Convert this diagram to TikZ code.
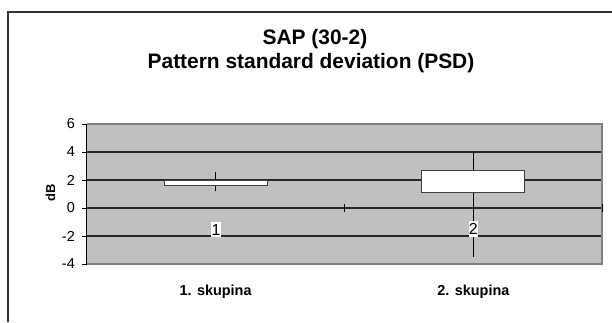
\documentclass[tikz,border=0pt]{standalone}
\usepackage{fontspec}
\setmainfont{Liberation Sans}
\usetikzlibrary{positioning}

\definecolor{plotgray}{HTML}{C0C0C0}
\definecolor{rimgray}{HTML}{808080}

\begin{document}
\begin{tikzpicture}[x=1bp,y=-1bp,
	title/.style={font=\fontsize{21}{24}\selectfont\bfseries,inner sep=0pt},
	ticklabel/.style={font=\fontsize{14.5}{16}\selectfont,anchor=east,inner sep=0pt},
	catlabel/.style={font=\fontsize{14.5}{16}\selectfont\bfseries,inner sep=0pt},
	gridline/.style={line width=1.2bp,black!85},
	updown/.style={draw=black!75,fill=white,line width=1bp},
	hilo/.style={line width=0.9bp,black},
	serieslabel/.style={fill=white,inner xsep=0.4bp,inner ysep=2bp,font=\fontsize{16}{18}\selectfont}]

	\useasboundingbox[fill=white] (0,0) rectangle (612,322);
	\draw[line width=1.3bp,black!80] (8,322) -- (8,12) -- (612,12);

	\node[title,anchor=base] (sap) at (315,44) {SAP (30-2)};
	\node[title,anchor=base] (psd) [below=24.3bp of sap.base,anchor=base,xshift=-4bp] {Pattern standard deviation (PSD)};

	% plot area, one unit of y is one dB
	\begin{scope}[shift={(86.7,208)},x=1bp,y=14bp]
		\fill[plotgray] (0,-4) rectangle (515.6,6);
		\foreach \v in {-2,0,2,4}
			\draw[gridline] (0,\v) -- (515.6,\v);
		\draw[rimgray,line width=2bp] (0,6) -- (515.6,6) -- (515.6,-4) -- (0,-4);
		\draw[black,line width=1.2bp] (0,-4) -- (0,6);
		\foreach \v [count=\i] in {-4,-2,...,6} {
			\draw[black,line width=1bp] (-4.5,\v) -- (0,\v);
			\node[ticklabel] (yl\i) at (-11.7,\v) {\v};
		}
		\draw[black,line width=1bp] (257.8,-0.3) -- (257.8,0.3);
		\draw[black,line width=1bp] (515.6,-0.3) -- (515.6,0.3);

		\node[rotate=90,font=\fontsize{13}{15}\selectfont\bfseries,inner sep=0pt] (db) at (-36.2,1.07) {dB};

		% high-low lines under the up-down bars
		\draw[hilo] (128.9,1.2) -- (128.9,2.55);
		\draw[updown] (77.5,1.59) rectangle (180.3,1.93);
		\draw[hilo] (386.7,-3.52) -- (386.7,3.9);
		\draw[updown] (335,1.12) rectangle (437.3,2.66);

		\node[serieslabel] (lab1) at (129.4,-1.55) {1};
		\node[serieslabel] (lab2) at (386.7,-1.5) {2};

		\node[catlabel] (grp1) at (128.9,-5.98) {1. skupina};
		\node[catlabel] (grp2) at (386.7,-5.98) {2. skupina};
	\end{scope}
\end{tikzpicture}
\end{document}
